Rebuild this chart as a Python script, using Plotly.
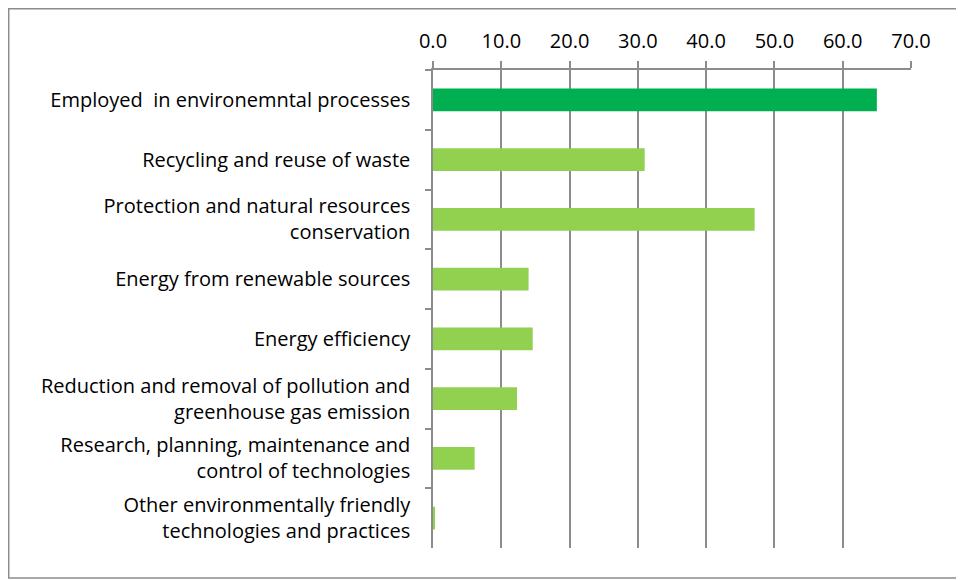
import plotly.graph_objects as go

# categories, top to bottom
categories = [
    "Employed  in environemntal processes",
    "Recycling and reuse of waste",
    "Protection and natural resources<br>conservation",
    "Energy from renewable sources",
    "Energy efficiency",
    "Reduction and removal of pollution and<br>greenhouse gas emission",
    "Research, planning, maintenance and<br>control of technologies",
    "Other environmentally friendly<br>technologies and practices",
]
values = [65.0, 31.0, 47.1, 14.0, 14.6, 12.3, 6.1, 0.3]
bar_colors = ["#00B050"] + ["#92D050"] * 7
x_ticks = [0, 10, 20, 30, 40, 50, 60, 70]
x_labels = ["%.1f" % t for t in x_ticks]

fig = go.Figure(go.Bar(
    x=values,
    y=categories,
    orientation="h",
    marker=dict(color=bar_colors, line=dict(width=0)),
    hovertemplate="%{y}: %{x:.1f}<extra></extra>",
))

font = "Open Sans, Liberation Sans, sans-serif"
grey = "#8c8c8c"

# page body has an 8px margin, so the figure is a bit smaller than the window
fig.update_layout(
    width=956,
    height=572,
    margin=dict(l=425, r=53, t=62, b=32),
    paper_bgcolor="white",
    plot_bgcolor="white",
    bargap=0.62,
    showlegend=False,
    font=dict(family=font, size=20, color="#000000"),
    xaxis=dict(
        side="top",
        range=[0, 70],
        tickvals=x_ticks,
        ticktext=x_labels,
        showgrid=True,
        gridcolor=grey,
        gridwidth=1.5,
        showline=True,
        linecolor=grey,
        linewidth=1.5,
        ticks="outside",
        ticklen=7,
        tickcolor=grey,
        tickwidth=1.5,
        ticklabelstandoff=5,
        zeroline=False,
        automargin=False,
        fixedrange=True,
    ),
    yaxis=dict(
        autorange="reversed",
        showgrid=False,
        showline=True,
        linecolor=grey,
        linewidth=1.5,
        ticks="outside",
        tickson="boundaries",
        ticklen=6,
        tickcolor=grey,
        tickwidth=1.5,
        ticklabelstandoff=17,
        automargin=False,
        fixedrange=True,
    ),
    shapes=[dict(
        type="rect", xref="paper", yref="paper",
        x0=-0.8876, x1=1.1088, y0=-0.0628, y1=1.128,
        line=dict(color=grey, width=1.5),
        layer="below",
    )],
)

fig.write_html("out.html")
